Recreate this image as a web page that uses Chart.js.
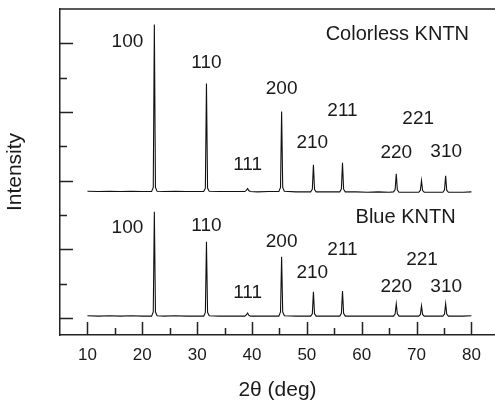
<!DOCTYPE html>
<html>
<head>
<meta charset="utf-8">
<script src="https://cdn.jsdelivr.net/npm/chart.js@4"></script>
<style>
  html, body { margin: 0; padding: 0; background: #fff; overflow: hidden; }
</style>
</head>
<body>
<canvas id="graph1" width="495" height="404"></canvas>
<script>
// 2θ positions (deg), shared by both patterns
const twoTheta = [
    10, 12, 14, 16, 18, 20,
    21.7, 22.0, 22.2, 22.4, 22.7,
    24, 26, 28, 30,
    31.2, 31.5, 31.7, 31.9, 32.2,
    34, 36,
    38.7, 39.0, 39.2, 39.4, 39.7,
    41, 43,
    44.9, 45.2, 45.4, 45.6, 45.9,
    48, 50,
    50.7, 51.0, 51.2, 51.4, 51.7,
    53, 55,
    56.0, 56.3, 56.5, 56.7, 57.0,
    59, 61, 63, 65,
    65.8, 66.1, 66.3, 66.5, 66.8,
    68, 70,
    70.4, 70.7, 70.9, 71.1, 71.4,
    73, 74,
    74.8, 75.1, 75.3, 75.5, 75.8,
    77, 78.5, 80
];

// intensities in axis units (top pattern sits above the bottom one)
const colorless = [
    4.19, 4.18, 4.19, 4.18, 4.19, 4.18,
    4.18, 4.30, 9.05, 4.30, 4.19,
    4.18, 4.19, 4.18, 4.18,
    4.18, 4.28, 7.33, 4.28, 4.19,
    4.18, 4.18,
    4.18, 4.22, 4.27, 4.21, 4.18,
    4.17, 4.18,
    4.18, 4.30, 6.51, 4.30, 4.19,
    4.17, 4.17,
    4.17, 4.25, 4.96, 4.24, 4.17,
    4.17, 4.17,
    4.17, 4.26, 5.02, 4.25, 4.17,
    4.17, 4.16, 4.17, 4.16,
    4.17, 4.24, 4.70, 4.23, 4.16,
    4.16, 4.16,
    4.16, 4.22, 4.50, 4.21, 4.16,
    4.16, 4.16,
    4.16, 4.23, 4.64, 4.22, 4.16,
    4.16, 4.16, 4.17
];

const blue = [
    0.56, 0.55, 0.56, 0.55, 0.56, 0.55,
    0.55, 0.67, 3.59, 0.67, 0.56,
    0.55, 0.56, 0.55, 0.55,
    0.55, 0.66, 2.72, 0.66, 0.56,
    0.55, 0.55,
    0.55, 0.59, 0.64, 0.58, 0.55,
    0.55, 0.55,
    0.55, 0.67, 2.28, 0.67, 0.56,
    0.55, 0.55,
    0.55, 0.62, 1.26, 0.62, 0.55,
    0.55, 0.55,
    0.55, 0.63, 1.28, 0.63, 0.55,
    0.55, 0.55, 0.55, 0.55,
    0.55, 0.62, 0.91, 0.62, 0.55,
    0.55, 0.55,
    0.55, 0.60, 0.85, 0.60, 0.55,
    0.55, 0.55,
    0.55, 0.61, 0.91, 0.61, 0.55,
    0.55, 0.55, 0.56
];

const xTicks = [10, 15, 20, 25, 30, 35, 40, 45, 50, 55, 60, 65, 70, 75, 80];
const yTicks = [0.5, 1.5, 2.5, 3.5, 4.5, 5.5, 6.5, 7.5, 8.5];

const hkl = ['100', '110', '111', '200', '210', '211', '220', '221', '310'];

// text anchored in data coordinates
const annotations = [
    {text: 'Colorless KNTN', x: 66.5, y: 8.76, size: 20},
    {text: 'Blue KNTN', x: 68.0, y: 3.42, size: 20},
    ...hkl.map((t, i) => ({text: t, size: 19,
        x: [17.3, 31.7, 39.2, 45.4, 51.0, 56.5, 66.3, 70.3, 75.4][i],
        y: [8.55, 7.94, 4.96, 7.18, 5.61, 6.54, 5.31, 6.31, 5.34][i]})),
    ...hkl.map((t, i) => ({text: t, size: 19,
        x: [17.3, 31.7, 39.2, 45.4, 51.0, 56.5, 66.3, 71.0, 75.4][i],
        y: [3.12, 3.18, 1.23, 2.72, 1.81, 2.48, 1.40, 2.19, 1.40][i]})),
];

const FONT = '"Liberation Sans", Arial, sans-serif';
const INK = '#1a1a1a';

// inward tick marks, top frame line and peak labels
const frameAndLabels = {
    id: 'frameAndLabels',
    afterDraw(chart) {
        const {ctx, chartArea, scales: {x, y}} = chart;
        ctx.save();
        ctx.strokeStyle = '#222';
        ctx.lineWidth = 1.5;
        ctx.beginPath();
        ctx.moveTo(chartArea.left, chartArea.top);
        ctx.lineTo(chartArea.right, chartArea.top);
        x.ticks.forEach(t => {
            const px = Math.round(x.getPixelForValue(t.value)) + 0.5;
            const len = t.value % 10 === 0 ? 13 : 7;
            ctx.moveTo(px, chartArea.bottom);
            ctx.lineTo(px, chartArea.bottom - len);
        });
        y.ticks.forEach(t => {
            const py = Math.round(y.getPixelForValue(t.value)) + 0.5;
            const len = (t.value - 0.5) % 2 === 0 ? 13 : 7;
            ctx.moveTo(chartArea.left, py);
            ctx.lineTo(chartArea.left + len, py);
        });
        ctx.stroke();

        ctx.fillStyle = INK;
        ctx.textAlign = 'center';
        ctx.textBaseline = 'middle';
        annotations.forEach(a => {
            ctx.font = a.size + 'px ' + FONT;
            ctx.fillText(a.text, x.getPixelForValue(a.x), y.getPixelForValue(a.y));
        });
        ctx.restore();
    }
};

const config = {
    type: 'scatter',
    data: {
        datasets: [
            {
                label: 'Colorless KNTN',
                data: twoTheta.map((t, i) => ({x: t, y: colorless[i]})),
                showLine: true,
                borderColor: '#111',
                borderWidth: 1.1,
                pointRadius: 0,
                tension: 0,
            },
            {
                label: 'Blue KNTN',
                data: twoTheta.map((t, i) => ({x: t, y: blue[i]})),
                showLine: true,
                borderColor: '#111',
                borderWidth: 1.1,
                pointRadius: 0,
                tension: 0,
            }
        ]
    },
    options: {
        responsive: false,
        animation: false,
        devicePixelRatio: 1,
        layout: {
            padding: {top: 9, right: 0, bottom: 0, left: 0}
        },
        scales: {
            x: {
                type: 'linear',
                min: 5,
                max: 84.3,
                afterBuildTicks: scale => {
                    scale.ticks = xTicks.map(v => ({value: v}));
                },
                grid: {drawOnChartArea: false, drawTicks: false},
                border: {display: true, color: '#222', width: 1.5},
                ticks: {
                    padding: 10,
                    color: INK,
                    maxRotation: 0,
                    autoSkip: false,
                    font: {family: FONT, size: 17},
                    callback: value => (value % 10 === 0 ? value : '')
                },
                title: {
                    display: true,
                    text: '2θ (deg)',
                    color: INK,
                    font: {family: FONT, size: 21},
                    padding: {top: 2, bottom: 1.4}
                }
            },
            y: {
                min: 0,
                max: 9.5,
                afterBuildTicks: scale => {
                    scale.ticks = yTicks.map(v => ({value: v}));
                },
                grid: {drawOnChartArea: false, drawTicks: false},
                border: {display: true, color: '#222', width: 1.5},
                ticks: {display: false},
                title: {
                    display: true,
                    text: 'Intensity',
                    color: INK,
                    font: {family: FONT, size: 21},
                    padding: {top: 2.4, bottom: 32.4}
                }
            }
        },
        plugins: {
            legend: {display: false},
            tooltip: {enabled: false}
        }
    },
    plugins: [frameAndLabels]
};

const myChart = new Chart(
    document.getElementById('graph1'),
    config
);
</script>
</body>
</html>
